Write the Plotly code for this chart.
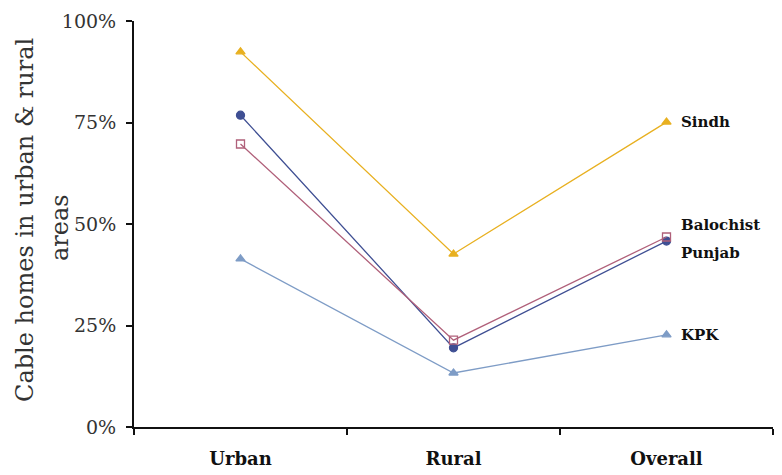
import plotly.graph_objects as go

categories = ["Urban", "Rural", "Overall"]
sindh = [0.924, 0.426, 0.751]
punjab = [0.768, 0.195, 0.458]
balochistan = [0.697, 0.214, 0.468]
kpk = [0.414, 0.133, 0.227]
y_ticks = [0, 0.25, 0.5, 0.75, 1.0]
y_tick_labels = ["0%", "25%", "50%", "75%", "100%"]

series = [
    ("Sindh", sindh, "#E8B020", "triangle-up", 0),
    ("Punjab", punjab, "#3F4F93", "circle", -12),
    ("Balochist", balochistan, "#B0607A", "square-open", 12),
    ("KPK", kpk, "#7E9CC6", "triangle-up", 0),
]

SERIF = "DejaVu Serif"

fig = go.Figure()
for name, vals, color, sym, yshift in series:
    fig.add_trace(go.Scatter(
        x=categories, y=vals, mode="lines+markers", name=name,
        line=dict(color=color, width=1.3),
        marker=dict(symbol=sym, size=8, color=color, line=dict(color=color, width=1.3)),
        showlegend=False,
    ))
    fig.add_annotation(x=categories[-1], y=vals[-1], text=name, showarrow=False,
                       xanchor="left", yanchor="middle", xshift=12, yshift=yshift,
                       font=dict(family=SERIF, size=15, color="#111", weight="bold"))

fig.update_layout(
    width=774, height=467,
    margin=dict(l=126, r=9, t=13, b=48, autoexpand=False),
    paper_bgcolor="white", plot_bgcolor="white",
    font=dict(family=SERIF, color="#222"),
)
fig.update_xaxes(
    type="category", range=[-0.5, 2.5], tickson="boundaries", automargin=False,
    showline=True, linecolor="#111", linewidth=2,
    ticks="outside", ticklen=6, tickcolor="#111", tickwidth=2,
    tickfont=dict(family=SERIF, size=18, color="#111", weight="bold"),
    ticklabelstandoff=14,
    showgrid=False, zeroline=False,
)
fig.update_yaxes(
    range=[0, 1], tickvals=y_ticks, ticktext=y_tick_labels, automargin=False,
    showline=True, linecolor="#111", linewidth=2,
    ticks="outside", ticklen=6, tickcolor="#111", tickwidth=2,
    tickfont=dict(family=SERIF, size=19, color="#333"),
    ticklabelstandoff=6,
    showgrid=False, zeroline=False,
)
fig.add_annotation(xref="paper", yref="paper", x=-0.1706, y=0.51, xanchor="center", yanchor="middle",
                   text="Cable homes in urban & rural", textangle=-90, showarrow=False,
                   font=dict(family=SERIF, size=24, color="#333"))
fig.add_annotation(xref="paper", yref="paper", x=-0.1158, y=0.49, xanchor="center", yanchor="middle",
                   text="areas", textangle=-90, showarrow=False,
                   font=dict(family=SERIF, size=24, color="#333"))

fig.write_html("out.html")
